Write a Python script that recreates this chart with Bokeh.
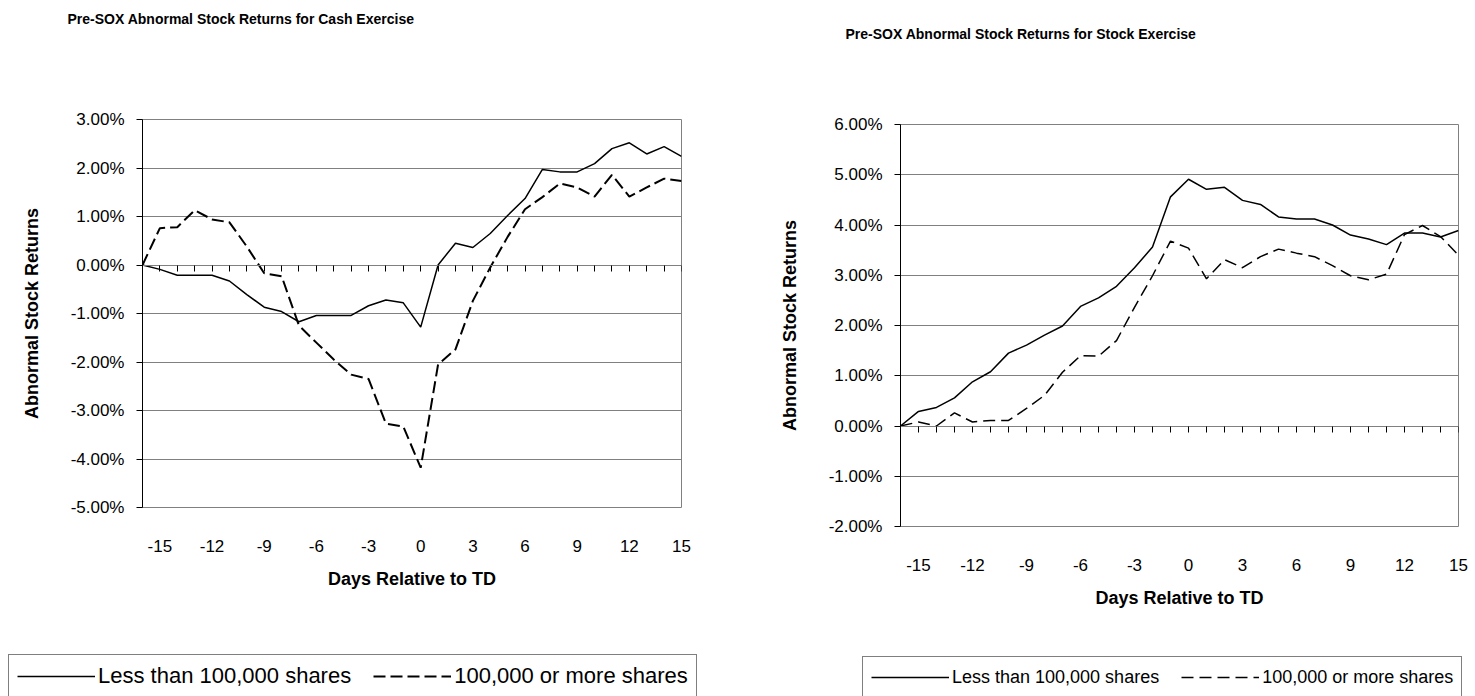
from bokeh.plotting import figure
from bokeh.models import (Range1d, FixedTicker, PrintfTickFormatter, LinearAxis,
                          Legend, LegendItem)
from bokeh.layouts import row, column
from bokeh.embed import file_html
from bokeh.resources import INLINE

# ---------------- data (abnormal returns, in percent) ----------------
days = list(range(-16, 16))
day_labels = [-15, -12, -9, -6, -3, 0, 3, 6, 9, 12, 15]

cash_small = [0.00, -0.09, -0.21, -0.21, -0.21, -0.33, -0.61, -0.87, -0.96, -1.17,
              -1.04, -1.04, -1.04, -0.84, -0.72, -0.78, -1.28, 0.00, 0.45, 0.36,
              0.65, 1.02, 1.37, 1.97, 1.92, 1.92, 2.09, 2.40, 2.52, 2.29, 2.44, 2.24]
cash_large = [0.00, 0.76, 0.78, 1.13, 0.94, 0.88, 0.38, -0.17, -0.23, -1.25,
              -1.60, -1.95, -2.26, -2.35, -3.27, -3.33, -4.18, -2.05, -1.74, -0.74,
              -0.05, 0.58, 1.15, 1.40, 1.68, 1.60, 1.41, 1.86, 1.41, 1.60, 1.78, 1.73]

stock_small = [0.00, 0.29, 0.37, 0.56, 0.88, 1.08, 1.45, 1.61, 1.81, 1.99,
               2.38, 2.55, 2.78, 3.15, 3.56, 4.56, 4.91, 4.71, 4.75, 4.49,
               4.41, 4.16, 4.12, 4.12, 4.00, 3.80, 3.72, 3.61, 3.84, 3.84, 3.76, 3.89]
stock_large = [0.00, 0.08, 0.00, 0.26, 0.08, 0.11, 0.11, 0.35, 0.61, 1.07,
               1.40, 1.39, 1.70, 2.36, 2.99, 3.68, 3.54, 2.93, 3.31, 3.15,
               3.37, 3.52, 3.44, 3.37, 3.19, 2.99, 2.91, 3.02, 3.81, 3.99, 3.77, 3.40]

cash_yticks = [3, 2, 1, 0, -1, -2, -3, -4, -5]
stock_yticks = [6, 5, 4, 3, 2, 1, 0, -1, -2]

series_names = ["Less than 100,000 shares", "100,000 or more shares"]

FONT = "Liberation Sans"
GRID = "#808080"
CHART_H = 640
LEG_H = 56


def make_chart(title, small, large, yticks, width, borders, title_offset,
               title_gap, dash_width, dash):
    bl, br, bt, bb = borders
    p = figure(width=width, height=CHART_H, output_backend="svg", toolbar_location=None,
               x_range=Range1d(days[0], days[-1]),
               y_range=Range1d(min(yticks), max(yticks)),
               min_border_left=bl, min_border_right=br,
               min_border_top=bt, min_border_bottom=bb,
               frame_align=False,
               background_fill_color="white", border_fill_color="white")
    p.outline_line_color = GRID
    p.outline_line_width = 1

    xa = p.below[0]      # the day-label axis below the frame
    ya = p.left[0]       # the percentage axis

    # title (kept at the top, lifted by an invisible spacer axis)
    p.title.text = title
    p.title.text_font = FONT
    p.title.text_font_size = "14px"
    p.title.text_font_style = "bold"
    p.title.text_color = "black"
    p.title.align = "left"
    p.title.offset = title_offset
    p.title.standoff = 10
    gap = LinearAxis(ticker=FixedTicker(ticks=[0]), major_tick_out=title_gap,
                     major_tick_in=0, axis_line_color=None,
                     major_tick_line_color=None, minor_tick_line_color=None,
                     major_label_overrides={0: ""}, major_label_standoff=0)
    p.add_layout(gap, "above")

    # y axis
    ya.ticker = FixedTicker(ticks=yticks)
    ya.formatter = PrintfTickFormatter(format="%.2f%%")
    ya.axis_line_color = "black"
    ya.major_tick_line_color = "black"
    ya.major_tick_out = 6
    ya.major_tick_in = 0
    ya.minor_tick_line_color = None
    ya.major_label_standoff = 12
    ya.major_label_text_font = FONT
    ya.major_label_text_font_size = "17px"
    ya.major_label_text_color = "black"
    ya.axis_label = "Abnormal Stock Returns"
    ya.axis_label_text_font = FONT
    ya.axis_label_text_font_size = "18px"
    ya.axis_label_text_font_style = "bold"
    ya.axis_label_text_color = "black"
    ya.axis_label_standoff = 26

    p.ygrid.grid_line_color = GRID
    p.ygrid.grid_line_width = 1
    p.xgrid.visible = False

    # x axis labels (at bottom of the frame)
    xa.ticker = FixedTicker(ticks=day_labels)
    xa.major_label_overrides = {d: str(d) for d in day_labels}
    xa.axis_line_color = None
    xa.major_tick_line_color = None
    xa.minor_tick_line_color = None
    xa.major_label_standoff = 26
    xa.major_label_text_font = FONT
    xa.major_label_text_font_size = "17px"
    xa.major_label_text_color = "black"
    xa.axis_label = "Days Relative to TD"
    xa.axis_label_text_font = FONT
    xa.axis_label_text_font_size = "18px"
    xa.axis_label_text_font_style = "bold"
    xa.axis_label_text_color = "black"
    xa.axis_label_standoff = 14

    # category axis crossing at 0% (tick marks only)
    zx = LinearAxis(fixed_location=0, ticker=FixedTicker(ticks=days),
                    axis_line_color=GRID, major_tick_line_color="black",
                    major_tick_out=6, major_tick_in=0, minor_tick_line_color=None,
                    major_label_overrides={d: "" for d in days},
                    major_label_standoff=0)
    p.add_layout(zx, "below")

    p.line(days, small, line_color="black", line_width=1.5)
    p.line(days, large, line_color="black", line_width=dash_width, line_dash=dash)
    return p


def make_legend(small, large, width, loc, font, spacing, dash_width, dash):
    f = figure(width=width, height=LEG_H, output_backend="svg", toolbar_location=None,
               x_range=Range1d(100, 101), y_range=Range1d(100, 101),
               x_axis_location=None, y_axis_location=None, min_border=0,
               frame_align=False,
               background_fill_color="white", border_fill_color="white")
    f.outline_line_color = None
    f.grid.visible = False
    r1 = f.line(days, small, line_color="black", line_width=1.5)
    r2 = f.line(days, large, line_color="black", line_width=dash_width, line_dash=dash)
    legend = Legend(items=[LegendItem(label=series_names[0], renderers=[r1]),
                           LegendItem(label=series_names[1], renderers=[r2])],
                    orientation="horizontal", location=loc,
                    label_text_font=FONT, label_text_font_size=font,
                    label_text_color="black",
                    glyph_width=78, glyph_height=20, label_height=24,
                    label_standoff=3, spacing=spacing, padding=8, margin=0,
                    border_line_color="black", border_line_width=1,
                    background_fill_color="white", background_fill_alpha=1.0)
    f.add_layout(legend, "center")
    return f


left = make_chart("Pre-SOX Abnormal Stock Returns for Cash Exercise",
                  cash_small, cash_large, cash_yticks, 750,
                  (142, 69, 119, CHART_H - 507), -75, 88, 2, "12 5")
left_leg = make_legend(cash_small, cash_large, 750, (8, -2), "22px", 22, 2, "12 5")

right = make_chart("Pre-SOX Abnormal Stock Returns for Stock Exercise",
                   stock_small, stock_large, stock_yticks, 725,
                   (150, 17, 124, CHART_H - 526), -55, 78, 1.5, "12 6")
right_leg = make_legend(stock_small, stock_large, 725, (112, -2), "18px", 22, 1.5, "12 6")

layout = row(column(left, left_leg), column(right, right_leg))
open("out.html", "w").write(file_html(layout, INLINE))
